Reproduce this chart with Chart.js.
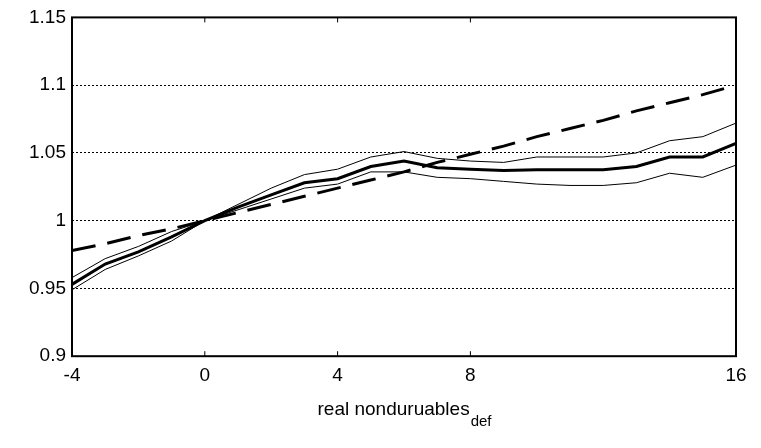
<!DOCTYPE html>
<html><head>
<script src="https://cdn.jsdelivr.net/npm/chart.js@4/dist/chart.umd.min.js"></script>
<style>body{margin:0;background:#fff}#wrap{width:761px;height:448px}</style>
</head><body><div id="wrap"><canvas id="c"></canvas></div>
<script>
const horizons = [-4,-3,-2,-1,0,1,2,3,4,5,6,7,8,9,10,11,12,13,14,15,16];
const midLine = [0.953,0.968,0.977,0.988,1,1.010,1.019,1.028,1.031,1.040,1.044,1.039,1.038,1.037,1.0375,1.0375,1.0375,1.040,1.047,1.047,1.057];
const upperBand = [0.958,0.972,0.981,0.992,1,1.012,1.024,1.034,1.038,1.047,1.051,1.046,1.044,1.043,1.047,1.047,1.047,1.050,1.059,1.062,1.072];
const lowerBand = [0.949,0.964,0.974,0.985,1,1.008,1.016,1.024,1.027,1.036,1.036,1.032,1.031,1.029,1.027,1.026,1.026,1.028,1.035,1.032,1.041];
const dashedLine = [0.978,0.983,0.989,0.994,1,1.006,1.012,1.018,1.024,1.030,1.036,1.043,1.049,1.055,1.062,1.068,1.074,1.081,1.087,1.093,1.1];
const xTicks = [-4,0,4,8,16];
const yTicks = [0.9,0.95,1,1.05,1.1,1.15];

const pts = arr => arr.map((v,i) => ({x: horizons[i], y: v}));
const font = {family: "'Liberation Sans', Arial", size: 19};

const xLabel = {
    id: "xLabel",
    afterDraw(chart) {
        const ctx = chart.ctx;
        const a = chart.chartArea;
        ctx.save();
        ctx.fillStyle = "#000";
        ctx.textBaseline = "alphabetic";
        const t = "real nonduruables";
        ctx.font = "19px 'Liberation Sans', Arial";
        const w = ctx.measureText(t).width;
        ctx.font = "15px 'Liberation Sans', Arial";
        const w2 = ctx.measureText("def").width;
        const x0 = 404 - (w + w2) / 2;
        ctx.font = "19px 'Liberation Sans', Arial";
        ctx.fillText(t, x0, 415);
        ctx.font = "15px 'Liberation Sans', Arial";
        ctx.fillText("def", x0 + w + 1, 426);
        // frame + inner ticks
        ctx.strokeStyle = "#000";
        ctx.lineWidth = 2;
        ctx.strokeRect(a.left, a.top, a.right - a.left, a.bottom - a.top);
        ctx.lineWidth = 1;
        xTicks.forEach(v => {
            const px = chart.scales.x.getPixelForValue(v);
            ctx.beginPath(); ctx.moveTo(px, a.top); ctx.lineTo(px, a.top + 5); ctx.stroke();
            ctx.beginPath(); ctx.moveTo(px, a.bottom); ctx.lineTo(px, a.bottom - 5); ctx.stroke();
        });
        ctx.restore();
    }
};

new Chart(document.getElementById("c"), {
    type: "line",
    data: {
        datasets: [
            {data: pts(upperBand), borderColor: "#000", borderWidth: 1, pointRadius: 0},
            {data: pts(lowerBand), borderColor: "#000", borderWidth: 1, pointRadius: 0},
            {data: pts(midLine), borderColor: "#000", borderWidth: 3, pointRadius: 0},
            {data: pts(dashedLine), borderColor: "#000", borderWidth: 3, borderDash: [24, 12], pointRadius: 0}
        ]
    },
    options: {
        responsive: true,
        maintainAspectRatio: false,
        animation: false,
        layout: {padding: {left: 0, right: 25, top: 7, bottom: 53}},
        plugins: {legend: {display: false}, tooltip: {enabled: false}},
        scales: {
            x: {
                type: "linear", min: -4, max: 16,
                afterBuildTicks: s => { s.ticks = xTicks.map(v => ({value: v})); },
                grid: {display: false, drawTicks: false},
                border: {display: false},
                ticks: {color: "#000", font: font, padding: 8, maxRotation: 0}
            },
            y: {
                min: 0.9, max: 1.15,
                afterBuildTicks: s => { s.ticks = yTicks.map(v => ({value: v})); },
                afterFit: s => { s.width = 72; },
                grid: {color: "#000", lineWidth: 1, drawTicks: false},
                border: {display: false, dash: [2, 2]},
                ticks: {color: "#000", font: font, padding: 6, callback: v => String(+v.toFixed(2))}
            }
        }
    },
    plugins: [xLabel]
});
</script>
</body></html>
